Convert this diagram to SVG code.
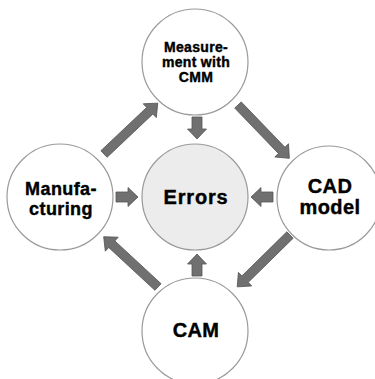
<svg xmlns="http://www.w3.org/2000/svg" xmlns:xlink="http://www.w3.org/1999/xlink" width="375" height="379" viewBox="0 0 375 379">
<style>
.node{fill:#ffffff;stroke:#9a9a9a;stroke-width:1.2}
.center{fill:#ececec;stroke:#9a9a9a;stroke-width:1.2}
.lbl{font-family:"Liberation Sans",Arial,sans-serif;font-weight:bold;fill:#000;text-anchor:middle;stroke:#000;stroke-width:0.4}
.arr{fill:#707070;stroke:#555555;stroke-width:0.8;stroke-linejoin:miter}
</style>
<defs>
<polygon id="longArrow" class="arr" points="0,-4.5 63,-4.5 63,-9.5 74,0 63,9.5 63,4.5 0,4.5"/>
<polygon id="shortArrow" class="arr" points="0,-5 12,-5 12,-9.5 22,0 12,9.5 12,5 0,5"/>
</defs>
<rect width="375" height="379" fill="#ffffff"/>
<g id="node-measurement">
<circle class="node" cx="195" cy="62" r="53"/>
<text class="lbl" font-size="14" x="196" y="52" letter-spacing="0.3">Measure-</text>
<text class="lbl" font-size="14" x="196" y="67" letter-spacing="0.3">ment with</text>
<text class="lbl" font-size="14" x="196" y="82" letter-spacing="0.3">CMM</text>
</g>
<g id="node-manufacturing">
<circle class="node" cx="60" cy="197" r="53"/>
<text class="lbl" font-size="18" x="61" y="195" letter-spacing="0.4">Manufa-</text>
<text class="lbl" font-size="18" x="61" y="215" letter-spacing="0.4">cturing</text>
</g>
<g id="node-errors">
<circle class="center" cx="195" cy="197" r="53"/>
<text class="lbl" font-size="20" x="196" y="204" letter-spacing="0.8">Errors</text>
</g>
<g id="node-cad">
<circle class="node" cx="329" cy="198" r="52"/>
<text class="lbl" font-size="20" x="330" y="193" letter-spacing="0.4">CAD</text>
<text class="lbl" font-size="20" x="330" y="214" letter-spacing="0.4">model</text>
</g>
<g id="node-cam">
<circle class="node" cx="195" cy="331" r="53"/>
<text class="lbl" font-size="20" x="196" y="337" letter-spacing="0.4">CAM</text>
</g>
<g id="connectors">
<use xlink:href="#longArrow" transform="translate(104,154) rotate(-43.4)"/>
<use xlink:href="#longArrow" transform="translate(238,105) rotate(46.1)"/>
<use xlink:href="#longArrow" transform="translate(290,235) rotate(135.5)"/>
<use xlink:href="#longArrow" transform="translate(158,287) rotate(222.8)"/>
<use xlink:href="#shortArrow" transform="translate(116,197)"/>
<use xlink:href="#shortArrow" transform="translate(273,197) rotate(180)"/>
<use xlink:href="#shortArrow" transform="translate(197,117) rotate(90)"/>
<use xlink:href="#shortArrow" transform="translate(197,276) rotate(-90)"/>
</g>
</svg>
